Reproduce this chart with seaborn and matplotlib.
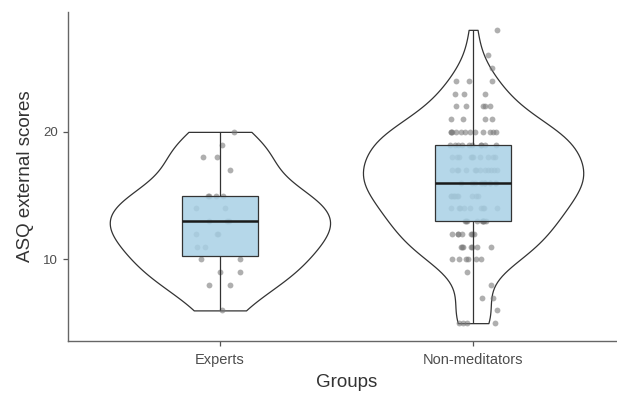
import numpy as np
import pandas as pd
import seaborn as sns
import matplotlib.pyplot as plt

# groups and scores (integer ASQ scores)
groups = ["Experts", "Non-meditators"]

expert_scores = [6, 8, 8, 9, 9, 10, 10, 11, 11, 12, 12, 12, 13, 13, 13,
                 14, 14, 15, 15, 15, 15, 17, 18, 18, 19, 20]

# non-meditators: score values and how many people had each
nonmed_values = [5, 6, 7, 8, 9, 10, 11, 12, 13, 14, 15, 16, 17, 18, 19, 20,
                 21, 22, 23, 24, 25, 26, 28]
nonmed_counts = [4, 1, 2, 1, 1, 6, 7, 7, 9, 9, 10, 12, 12, 10, 10, 12,
                 4, 5, 3, 3, 1, 1, 1]

nonmed_scores = np.repeat(nonmed_values, nonmed_counts)

data = pd.DataFrame({
    "Groups": [groups[0]] * len(expert_scores) + [groups[1]] * len(nonmed_scores),
    "score": np.concatenate([expert_scores, nonmed_scores]),
})

sns.set_style("white")
plt.rcParams['font.family'] = ['Liberation Sans', 'DejaVu Sans']

fig = plt.figure(figsize=(6.17, 3.97), dpi=100)
ax = fig.add_axes([68 / 617, 56 / 397, 557 / 617, 329 / 397])

# violins, trimmed at the data range and scaled to the same width
sns.violinplot(data=data, x="Groups", y="score", order=groups, inner=None,
               cut=0, density_norm="width", width=0.87, bw_adjust=0.9,
               color="white", linecolor="#333333", linewidth=0.9, ax=ax)

# jittered points
np.random.seed(3)
sns.stripplot(data=data, x="Groups", y="score", order=groups, jitter=0.1,
              color="#7a7a7a", alpha=0.6, size=4.2, linewidth=0, ax=ax)

# boxes on top of the points
sns.boxplot(data=data, x="Groups", y="score", order=groups, width=0.3,
            color="#a9d0e6", linecolor="#333333", linewidth=0.9,
            showcaps=False, fliersize=0,
            medianprops={"color": "#1a1a1a", "linewidth": 1.8}, ax=ax)

for p in ax.patches:
    p.set_facecolor((0.66, 0.82, 0.90, 0.85))
    p.set_zorder(3)
for ln in ax.lines:
    ln.set_zorder(4)

ax.set_xlim(-0.6, 1.6)
ax.set_ylim(3.6, 29.4)
ax.set_yticks([10, 20])

sns.despine(ax=ax)
for side in ["left", "bottom"]:
    ax.spines[side].set_color("#666666")
    ax.spines[side].set_linewidth(1.0)

ax.tick_params(axis="both", which="both", direction="out", length=3.5,
               width=0.9, color="#555555", labelcolor="#4d4d4d",
               left=True, bottom=True)
ax.tick_params(axis="x", labelsize=10.5, pad=5)
ax.tick_params(axis="y", labelsize=9.5, pad=4)
ax.set_xlabel("Groups", fontsize=13.5, color="#333333", labelpad=5)
ax.set_ylabel("ASQ external scores", fontsize=13.5, color="#333333", labelpad=6)

plt.savefig("out.png", dpi=100)
